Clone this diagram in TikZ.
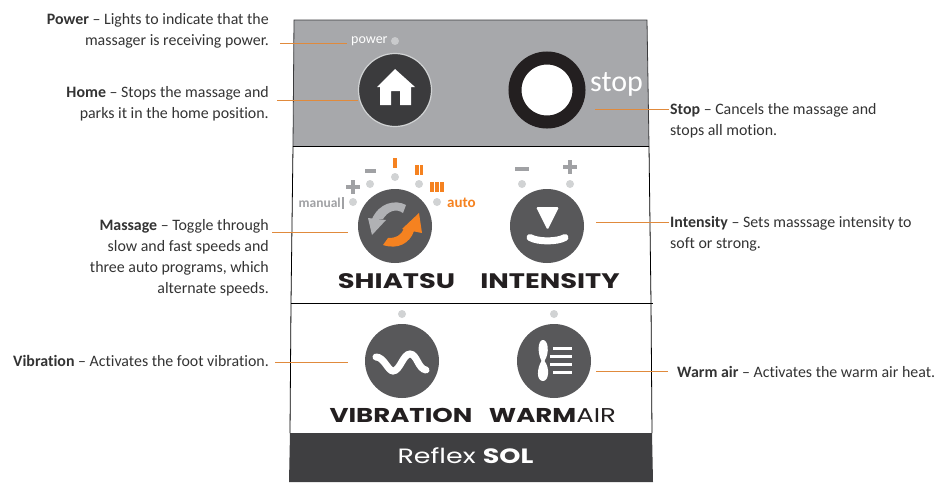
\documentclass[tikz,border=0pt]{standalone}
\usepackage{fontspec}
\setmainfont[Ligatures={NoCommon}]{Carlito}
\newfontfamily\panelfont[FakeStretch=1.3]{Poppins}
\usetikzlibrary{calc,positioning}
\definecolor{PanelGrey}{HTML}{A7A8AB}
\definecolor{ButtonDark}{HTML}{58585A}
\definecolor{HomeDark}{HTML}{3B3B3D}
\definecolor{FootDark}{HTML}{3F3F41}
\definecolor{RingBlack}{HTML}{231F20}
\definecolor{LedGrey}{HTML}{D1D3D4}
\definecolor{SignGrey}{HTML}{A0A1A4}
\definecolor{LeadOrange}{HTML}{E08A3C}
\definecolor{SyncOrange}{HTML}{F58220}
\definecolor{NoteText}{HTML}{333333}
\tikzset{
  note/.style={font=\fontsize{15.9}{21}\selectfont, text=NoteText, inner sep=0pt},
  noteL/.style={note, align=right, anchor=east},
  noteR/.style={note, align=left, anchor=west},
  leader/.style={LeadOrange, line width=1.3pt},
  button/.style={circle, fill=ButtonDark, minimum size=74pt, inner sep=0pt},
  led/.style={circle, fill=LedGrey, minimum size=8pt, inner sep=0pt},
  caption/.style={font=\panelfont\bfseries\fontsize{21}{21}\selectfont, text=RingBlack, inner sep=0pt},
  captionlow/.style={font=\panelfont\bfseries\fontsize{20}{20}\selectfont, text=RingBlack, inner sep=0pt},
  sign/.style={SignGrey, line width=3.5pt},
  bars/.style={SyncOrange, line width=3.5pt},
  icon/.style={white, line width=7pt, line cap=round}
}
\begin{document}
\begin{tikzpicture}[x=1pt, y=-1pt]
    \useasboundingbox (0,0) rectangle (938,491);

    % panel
    \fill[PanelGrey] (294,20) -- (647,20) -- (649,146) -- (293,146) -- cycle;
    \draw[HomeDark, line width=0.8pt] (293,146) -- (294,20) -- (647,20) -- (649,146);
    \draw[black, line width=0.8pt] (293,146) -- (649,146);
    \draw[black, line width=0.8pt] (293,146) -- (291,303) (649,146) -- (651,303);
    \draw[black, line width=0.8pt] (291,303) -- (653,303);
    \draw[black, line width=0.8pt] (291,303) -- (290,433) (651,303) -- (652,433);
    \fill[FootDark] (290,433) -- (652,433) -- (653,482) -- (289,482) -- cycle;
    \node[font=\panelfont\fontsize{20.7}{20.7}\selectfont, text=white, inner sep=0pt] (brand) at (465.5,456) {Reflex \textbf{SOL}};

    % top row
    \node[circle, fill=HomeDark, draw=LedGrey, line width=1.2pt, minimum size=73pt, inner sep=0pt] (home) at (395,90) {};
    \fill[white] (395,69) -- (415,87) -- (411,87) -- (411,105) -- (400,105) -- (400,91) -- (391,91) -- (391,105) -- (380,105) -- (380,87) -- (377,87) -- cycle;
    \node[led, fill=LedGrey!80!PanelGrey] (powerled) at (395,41) {};
    \node[left=3pt of powerled, inner sep=0pt, text=white, font=\fontsize{14}{14}\selectfont] (powertext) {power};
    \node[circle, draw=RingBlack, line width=13pt, fill=white, minimum size=64pt, inner sep=0pt] (stop) at (547,90) {};
    \node[inner sep=0pt, text=white, font=\fontsize{30}{30}\selectfont, anchor=west] (stoptext) at (590,84) {stop};

    % shiatsu
    \node[button] (shiatsu) at (395,226) {};
    \fill[PanelGrey!90!white] (406,205) .. controls (395,199) and (379,203) .. (372,219) -- (383,219) .. controls (388,211) and (396,208) .. (403,213) -- cycle;
    \fill[PanelGrey!90!white] (368,218) -- (386,220) -- (372,235) -- cycle;
    \fill[SyncOrange] (383,245) .. controls (398,250) and (410,243) .. (414,231) -- (404,228) .. controls (401,236) and (396,238) .. (388,238) -- cycle;
    \fill[SyncOrange] (402,229) -- (422,233) -- (419,213) -- cycle;
    \node[led] (led1) at (353,202) {};
    \node[led] (led2) at (370,184) {};
    \node[led] (led3) at (395,177) {};
    \node[led] (led4) at (419,184) {};
    \node[led] (led5) at (437,202) {};
    \draw[sign] (346,187) -- (360,187) (353,180) -- (353,194);
    \draw[sign] (365,171) -- (376,171);
    \draw[SyncOrange, line width=4pt] (395,158) -- (395,168);
    \draw[bars] (417,165) -- (417,175) (421.5,165) -- (421.5,175);
    \draw[bars] (432,182) -- (432,192) (437,182) -- (437,192) (442,182) -- (442,192);
    \node[inner sep=0pt, anchor=east, text=SignGrey, font=\bfseries\fontsize{13.5}{13.5}\selectfont] (manualtext) at (341,203) {manual};
    \draw[SignGrey, line width=2pt] ($(manualtext.east)+(1.5,-6)$) -- ($(manualtext.east)+(1.5,6)$);
    \node[inner sep=0pt, anchor=west, text=SyncOrange, font=\bfseries\fontsize{15}{15}\selectfont] (autotext) at (447,203) {auto};
    \node[caption] (shiatsutext) at (396.5,281) {SHIATSU};

    % intensity
    \node[button] (intensity) at (547,226) {};
    \fill[white, rounded corners=1.5pt] (536,207) -- (559,207) -- (547.5,230) -- cycle;
    \draw[icon] (530,237.5) .. controls (538,242) and (557,242) .. (565,237.5);
    \node[led] (ledminus) at (522,184) {};
    \node[led] (ledplus) at (570,184) {};
    \draw[sign] (515,169) -- (529,169);
    \draw[sign] (563,167) -- (577,167) (570,160) -- (570,174);
    \node[caption] (intensitytext) at (550,281) {INTENSITY};

    % vibration
    \node[button] (vibration) at (402,361) {};
    \draw[icon] (376,357) .. controls (384,357) and (388,371) .. (393,371) .. controls (400,371) and (403,354) .. (410,354) .. controls (417,354) and (418,369) .. (426,370);
    \node[led] (ledvib) at (402,314) {};
    \node[captionlow] (vibrationtext) at (401,415) {VIBRATION};

    % warm air
    \node[button] (warmair) at (554,361) {};
    \fill[white] (543,340) .. controls (548,340) and (550,352) .. (544.5,361) .. controls (550,368) and (549,381) .. (543,381) .. controls (536,381) and (537,368) .. (541.5,361) .. controls (537,352) and (538,340) .. (543,340) -- cycle;
    \draw[white, line width=3pt] (553,348) -- (572,348) (550,356) -- (572,356) (550,364) -- (572,364) (553,372) -- (572,372);
    \node[led] (ledwarm) at (554,314) {};
    \node[captionlow] (warmtext) at (552.5,415) {WARM\mdseries AIR};

    % notes
    \node[noteL] (powernote) at (269,31) {\textbf{Power} -- Lights to indicate that the\\massager is receiving power.};
    \node[noteL] (homenote) at (269,104) {\textbf{Home} -- Stops the massage and\\parks it in the home position.};
    \node[noteL] (massagenote) at (269,258) {\textbf{Massage} -- Toggle through\\slow and fast speeds and\\three auto programs, which\\alternate speeds.};
    \node[noteL] (vibnote) at (269,361) {\textbf{Vibration} -- Activates the foot vibration.};
    \node[noteR] (stopnote) at (670,121) {\textbf{Stop} -- Cancels the massage and\\stops all motion.};
    \node[noteR] (intnote) at (670,234) {\textbf{Intensity} -- Sets masssage intensity to\\soft or strong.};
    \node[noteR] (warmnote) at (677,372) {\textbf{Warm air} -- Activates the warm air heat.};

    % leaders
    \coordinate (powertip) at (347,43.5);
    \coordinate (hometip) at (358,100.5);
    \coordinate (massagetip) at (348,232.5);
    \coordinate (vibtip) at (348,362.5);
    \coordinate (stoptip) at (595,109.5);
    \coordinate (inttip) at (596,222.5);
    \coordinate (warmtip) at (596,371.5);
    \draw[leader] ($(powernote.east |- powertip)+(11,0)$) -- (powertip);
    \draw[leader] ($(homenote.east |- hometip)+(8,0)$) -- (hometip);
    \draw[leader] ($(massagenote.east |- massagetip)+(3,0)$) -- (massagetip);
    \draw[leader] ($(vibnote.east |- vibtip)+(6,0)$) -- (vibtip);
    \draw[leader] (stoptip) -- ($(stopnote.west |- stoptip)+(-1,0)$);
    \draw[leader] (inttip) -- ($(intnote.west |- inttip)+(-1,0)$);
    \draw[leader] (warmtip) -- ($(warmnote.west |- warmtip)+(-9,0)$);
\end{tikzpicture}
\end{document}
